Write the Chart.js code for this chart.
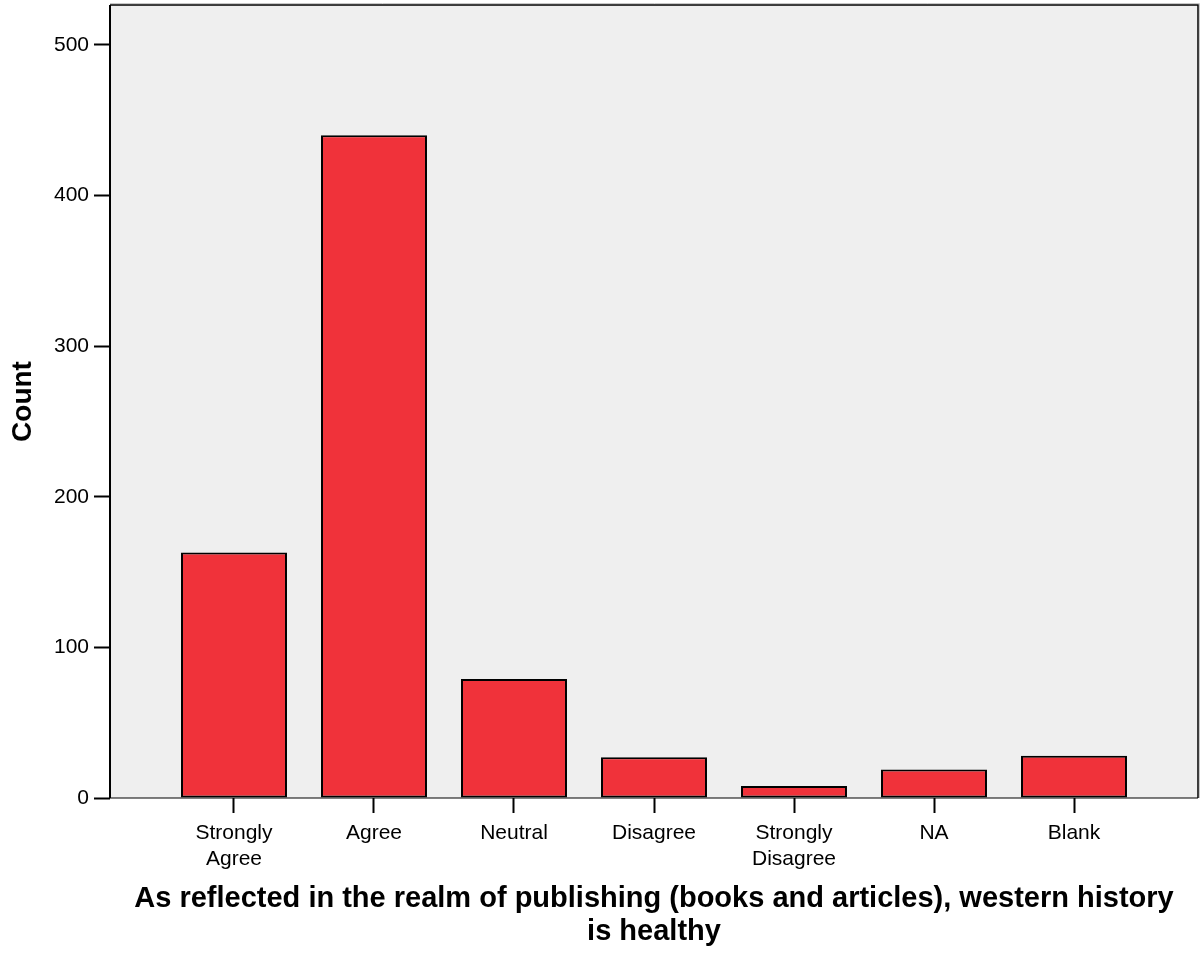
<!DOCTYPE html>
<html>
<head>
<meta charset="utf-8">
<script src="https://cdn.jsdelivr.net/npm/chart.js@4/dist/chart.umd.min.js"></script>
<style>
  html, body { margin: 0; padding: 0; background: #ffffff; }
  #wrap { width: 1202px; height: 954px; position: relative; }
</style>
</head>
<body>
<div id="wrap"><canvas id="c" width="1202" height="954"></canvas></div>
<script>
const categories = [["Strongly", "Agree"], "Agree", "Neutral", "Disagree", ["Strongly", "Disagree"], "NA", "Blank"];
const counts = [163, 440, 79, 27, 8, 19, 28];
const yTicks = [0, 100, 200, 300, 400, 500];
const xTitle = ["As reflected in the realm of publishing (books and articles), western history", "is healthy"];
const yTitle = "Count";

const FONT = "'Liberation Sans', Arial, Helvetica, sans-serif";

const plotFrame = {
  id: 'plotFrame',
  beforeDatasetsDraw(chart) {
    const a = chart.chartArea, ctx = chart.ctx;
    ctx.save();
    ctx.fillStyle = '#efefef';
    ctx.fillRect(a.left, a.top, a.right - a.left, a.bottom - a.top);
    ctx.restore();
  },
  afterDatasetsDraw(chart) {
    const a = chart.chartArea, ctx = chart.ctx;
    ctx.save();
    ctx.strokeStyle = '#c8c8c8';
    ctx.lineWidth = 1;
    ctx.beginPath();
    ctx.moveTo(a.left, a.top - 1.5); ctx.lineTo(a.right + 1.5, a.top - 1.5); ctx.lineTo(a.right + 1.5, a.bottom);
    ctx.stroke();
    ctx.strokeStyle = '#000000';
    ctx.lineWidth = 1.5;
    ctx.beginPath();
    ctx.moveTo(a.left, a.top); ctx.lineTo(a.right, a.top); ctx.lineTo(a.right, a.bottom);
    ctx.stroke();
    ctx.lineWidth = 2;
    ctx.beginPath();
    ctx.moveTo(a.left, a.top); ctx.lineTo(a.left, a.bottom);
    ctx.stroke();
    ctx.lineWidth = 1.2;
    ctx.beginPath();
    ctx.moveTo(a.left, a.bottom); ctx.lineTo(a.right, a.bottom);
    ctx.stroke();
    ctx.restore();
  }
};

new Chart(document.getElementById('c'), {
  type: 'bar',
  data: {
    labels: categories,
    datasets: [{
      data: counts,
      backgroundColor: '#f0323a',
      borderColor: '#000000',
      borderWidth: 2,
      borderSkipped: false,
      categoryPercentage: 1,
      barPercentage: 0.757
    }]
  },
  options: {
    responsive: false,
    animation: false,
    devicePixelRatio: 1,
    layout: { padding: { top: 5, right: 4, left: 0, bottom: 0 } },
    plugins: { legend: { display: false }, tooltip: { enabled: false } },
    scales: {
      x: {
        type: 'category',
        offset: true,
        afterBuildTicks(scale) {
          scale._startValue = -0.8857;
          scale._valueRange = 7.7714;
        },
        afterFit(scale) { scale.height = 156; scale.paddingLeft = 0; scale.paddingRight = 0; },
        grid: { display: true, drawOnChartArea: false, drawTicks: true, tickLength: 15, tickWidth: 2, tickColor: '#000000', offset: false },
        border: { display: false },
        ticks: { color: '#000000', font: { family: FONT, size: 21, lineHeight: 1.25 }, padding: 7, maxRotation: 0, autoSkip: false },
        title: { display: true, text: xTitle, color: '#000000', font: { family: FONT, size: 29, weight: 'bold', lineHeight: 1.14 }, padding: { top: 12, bottom: 5 } }
      },
      y: {
        min: 0,
        max: 526.5,
        afterBuildTicks(scale) {
          scale.ticks = yTicks.map(v => ({ value: v }));
        },
        afterFit(scale) { scale.width = 110; scale.paddingTop = 0; scale.paddingBottom = 0; },
        grid: { display: true, drawOnChartArea: false, drawTicks: true, tickLength: 16, tickWidth: 2, tickColor: '#000000' },
        border: { display: false },
        ticks: { color: '#000000', font: { family: FONT, size: 21 }, padding: 5 },
        title: { display: true, text: yTitle, color: '#000000', font: { family: FONT, size: 28, weight: 'bold' }, padding: { top: 6, bottom: 0 } }
      }
    }
  },
  plugins: [plotFrame]
});
</script>
</body>
</html>
